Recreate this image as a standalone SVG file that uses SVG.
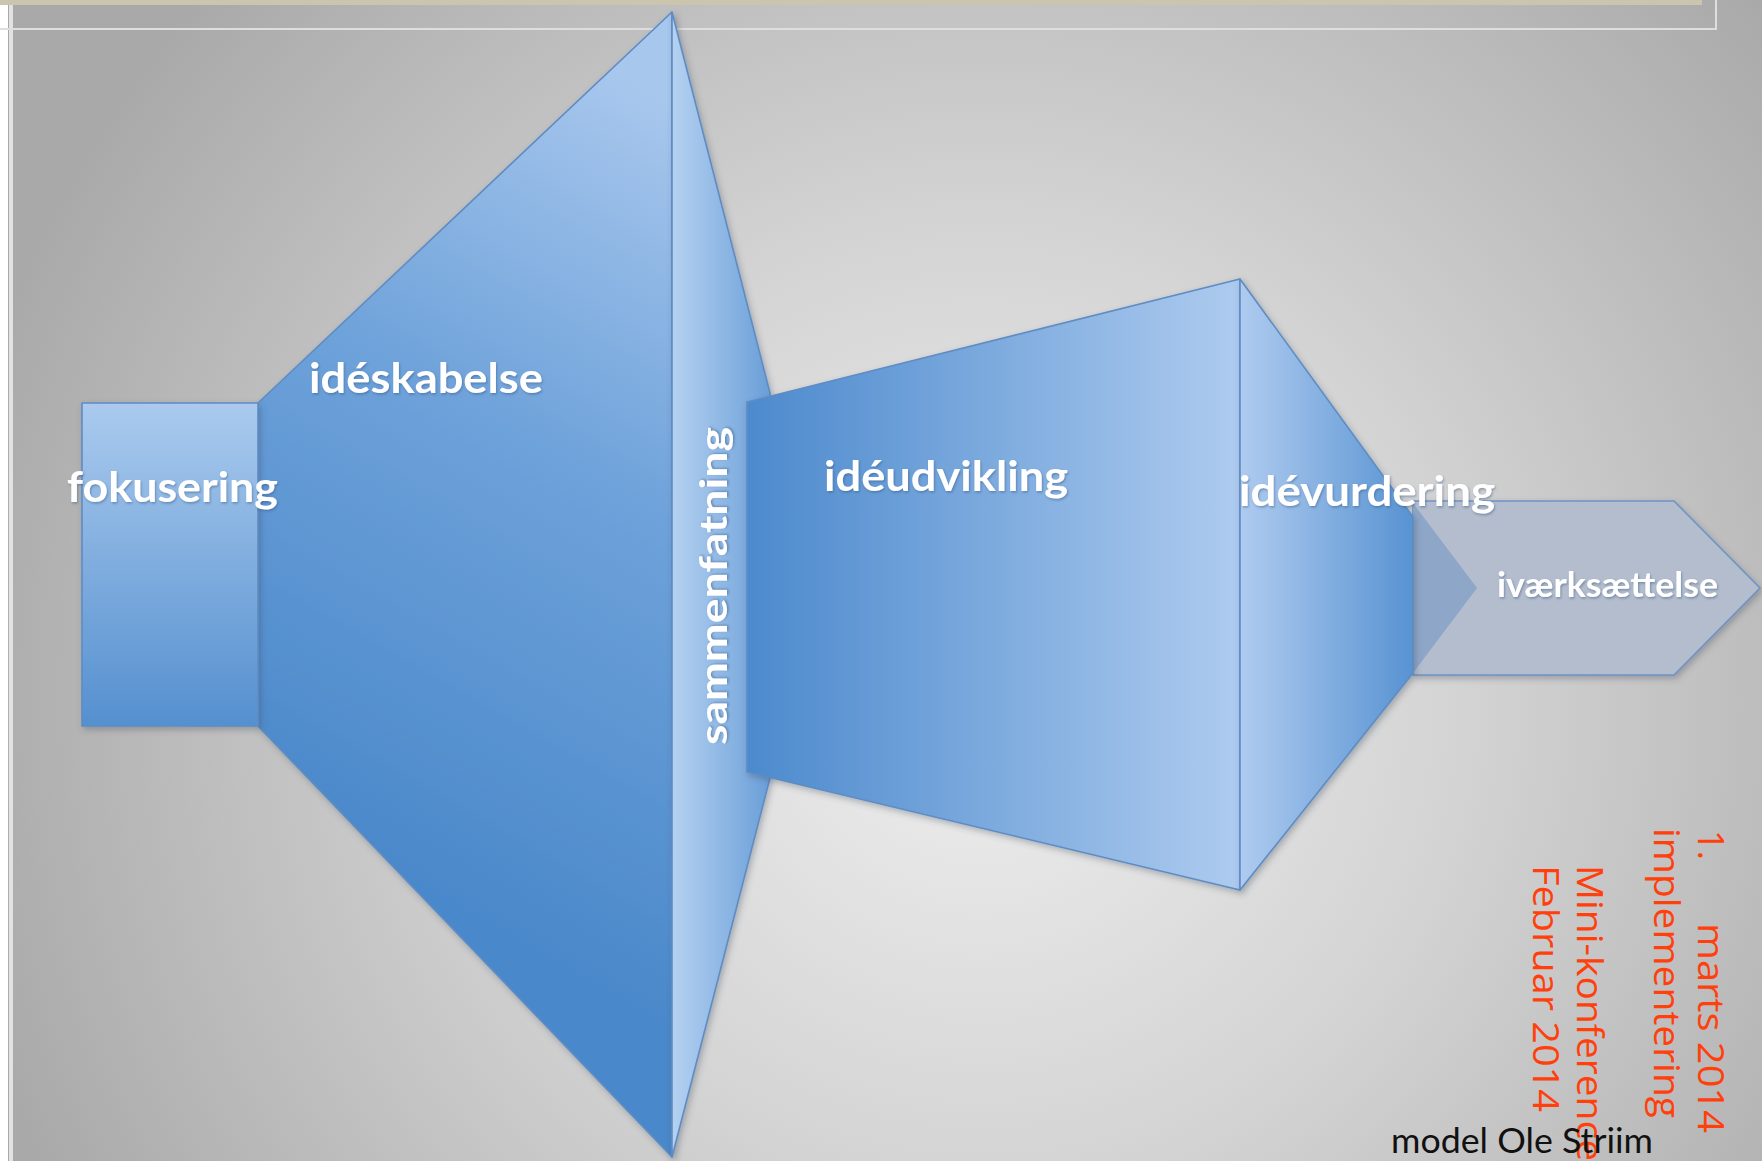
<svg xmlns="http://www.w3.org/2000/svg" width="1762" height="1161" viewBox="0 0 1762 1161">
<style>
.lbl{font-family:Lato,"Open Sans","Liberation Sans",sans-serif;font-weight:700;fill:#ffffff;filter:url(#tsh)}
.red{font-family:"Open Sans","Noto Sans","Liberation Sans",sans-serif;font-weight:400;fill:#ff3f0c;font-size:36px}
.edge{stroke:#5e8cc4;stroke-width:1.6;stroke-linejoin:round}
</style>
<defs>
<radialGradient id="bg" gradientUnits="userSpaceOnUse" cx="980" cy="700" r="1050">
<stop offset="0" stop-color="#efefef"/>
<stop offset="0.45" stop-color="#d4d4d4"/>
<stop offset="1" stop-color="#a9a9a9"/>
</radialGradient>
<linearGradient id="gFok" x1="0" y1="0" x2="0" y2="1">
<stop offset="0" stop-color="#aacaee"/>
<stop offset="1" stop-color="#5590cf"/>
</linearGradient>
<linearGradient id="gSkab" gradientUnits="userSpaceOnUse" x1="300" y1="820" x2="700" y2="120">
<stop offset="0" stop-color="#4a88ca"/>
<stop offset="0.55" stop-color="#6ea2da"/>
<stop offset="1" stop-color="#a8c7ed"/>
</linearGradient>
<linearGradient id="gSam" x1="0" y1="0" x2="1" y2="0">
<stop offset="0" stop-color="#b5d1f1"/>
<stop offset="1" stop-color="#6a9fd8"/>
</linearGradient>
<linearGradient id="gUdv" x1="0" y1="0" x2="1" y2="0">
<stop offset="0" stop-color="#4c8acd"/>
<stop offset="1" stop-color="#aecbef"/>
</linearGradient>
<linearGradient id="gVur" x1="0" y1="0" x2="1" y2="0">
<stop offset="0" stop-color="#afcbef"/>
<stop offset="1" stop-color="#5893d2"/>
</linearGradient>
<filter id="sh" x="-10%" y="-10%" width="120%" height="120%">
<feDropShadow dx="2" dy="3" stdDeviation="3" flood-color="#3c4a5c" flood-opacity="0.35"/>
</filter>
<filter id="tsh" x="-10%" y="-20%" width="120%" height="140%">
<feDropShadow dx="1" dy="1.5" stdDeviation="1.2" flood-color="#2d4f7c" flood-opacity="0.45"/>
</filter>
</defs>

<g id="background">
<rect x="0" y="0" width="1762" height="1161" fill="url(#bg)"/>
<rect x="0" y="0" width="8" height="1161" fill="#ffffff"/>
<rect x="9" y="0" width="4" height="1161" fill="#e2e2e2"/>
<rect x="0" y="0" width="1702" height="5" fill="#cbc5ae"/>
<rect x="0" y="28" width="1716" height="2" fill="#dedede"/>
<rect x="1715" y="0" width="2" height="30" fill="#dedede"/>
</g>

<g id="connectors"></g>

<g id="ideskabelse">
<polygon class="edge" points="258,403 672,12 672,1157 258,726" fill="url(#gSkab)" filter="url(#sh)"/>
<text class="lbl" x="309" y="393" font-size="42" textLength="234" lengthAdjust="spacingAndGlyphs">idéskabelse</text>
</g>

<g id="fokusering">
<rect class="edge" x="82" y="403" width="176" height="323" fill="url(#gFok)" filter="url(#sh)"/>
<text class="lbl" x="67" y="502" font-size="42" textLength="211" lengthAdjust="spacingAndGlyphs">fokusering</text>
</g>

<g id="sammenfatning">
<polygon class="edge" points="672,12 770,393 770,778 672,1157" fill="url(#gSam)" filter="url(#sh)"/>
</g>

<g id="ideudvikling">
<polygon class="edge" points="747,402 1240,279 1240,890 747,772" fill="url(#gUdv)" filter="url(#sh)"/>
<text class="lbl" x="824" y="491" font-size="42" textLength="244" lengthAdjust="spacingAndGlyphs">idéudvikling</text>
</g>

<g id="sammenfatning-label">
<text class="lbl" transform="translate(727,745) rotate(-90)" x="0" y="0" font-size="38" textLength="318" lengthAdjust="spacingAndGlyphs">sammenfatning</text>
</g>

<g id="ivaerksaettelse">
<polygon points="1413,501 1674,501 1760,588 1674,675 1413,675" fill="#b3bdcd" stroke="#6f93c4" stroke-width="1.6" stroke-linejoin="round" filter="url(#sh)"/>
<polygon points="1413,503 1477,588 1413,673" fill="#8ea7c9"/>
<text class="lbl" x="1497" y="597" font-size="35" textLength="221" lengthAdjust="spacingAndGlyphs">iværksættelse</text>
</g>

<g id="idevurdering">
<polygon class="edge" points="1240,279 1413,517 1413,673 1240,890" fill="url(#gVur)" filter="url(#sh)"/>
<text class="lbl" x="1239" y="506" font-size="42" textLength="256" lengthAdjust="spacingAndGlyphs">idévurdering</text>
</g>

<g id="notes">
<text class="red" transform="translate(1698,830) rotate(90)" x="0" y="0">1.</text>
<text class="red" transform="translate(1698,923) rotate(90)" x="0" y="0" textLength="210" lengthAdjust="spacingAndGlyphs">marts 2014</text>
<text class="red" transform="translate(1654,828) rotate(90)" x="0" y="0" textLength="290" lengthAdjust="spacingAndGlyphs">implementering</text>
<text class="red" transform="translate(1577,865) rotate(90)" x="0" y="0" textLength="296" lengthAdjust="spacingAndGlyphs">Mini-konference</text>
<text class="red" transform="translate(1533,865) rotate(90)" x="0" y="0" textLength="247" lengthAdjust="spacingAndGlyphs">Februar 2014</text>
<text x="1391" y="1153" font-family="Lato,'Open Sans','Liberation Sans',sans-serif" font-size="34" fill="#111111" textLength="262" lengthAdjust="spacingAndGlyphs">model Ole Striim</text>
</g>
</svg>
